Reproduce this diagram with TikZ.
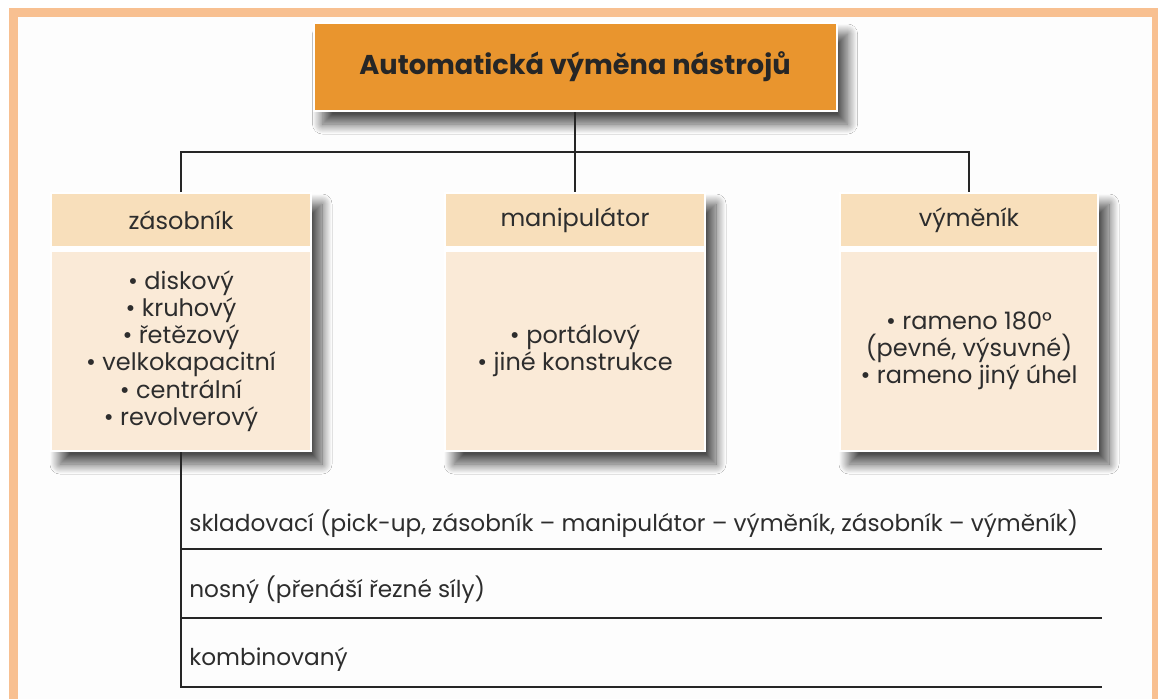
\documentclass[tikz,border=0pt]{standalone}
\usepackage{fontspec}
\setmainfont{Poppins}
\usetikzlibrary{positioning, shadows.blur, backgrounds}
\definecolor{Vring}{RGB}{248,192,145}
\definecolor{Vtop}{RGB}{233,149,46}
\definecolor{Vhead}{RGB}{248,223,187}
\definecolor{Vbody}{RGB}{250,234,215}
\definecolor{Vink}{RGB}{45,45,45}
\definecolor{Vpaper}{RGB}{253,253,253}
\tikzset{
  boxshadow/.style={blur shadow={shadow xshift=5pt, shadow yshift=-6pt,
      shadow blur radius=5pt, shadow blur steps=30, shadow opacity=70}},
  topbox/.style={fill=Vtop, draw=white, line width=1pt,
      minimum width=261.5pt, minimum height=44pt, inner sep=0pt,
      text=black!85, font=\fontsize{13.6}{16}\selectfont\bfseries},
  headbox/.style={fill=Vhead, draw=white, line width=1pt,
      minimum width=130pt, minimum height=27pt, inner sep=0pt,
      text=Vink, font=\fontsize{12}{14}\selectfont},
  bodybox/.style={fill=Vbody, draw=white, line width=1pt,
      minimum width=130pt, minimum height=100pt, inner sep=0pt,
      align=center, text=Vink, font=\fontsize{12}{13.6}\selectfont},
  rowtext/.style={anchor=base west, inner sep=0pt, text=Vink,
      font=\fontsize{11.6}{13}\selectfont},
  conn/.style={draw=black!85, line width=1.1pt}
}

\begin{document}
\begin{tikzpicture}[x=0.5pt, y=-0.5pt]
  \useasboundingbox (0,0) rectangle (1158,698);
  \clip (0,0) rectangle (1158,698);

  % title
  \node[topbox] (top) at (575,67) {Automatická výměna nástrojů};

  % three groups: header + list
  \node[headbox] (zas) at (181,220) {zásobník};
  \node[headbox] (man) at (575,220) {manipulátor};
  \node[headbox, minimum width=129pt] (vym) at (969,220) {výměník};

  \node[bodybox, below=1pt of zas] (zasB)
    {• diskový\\ • kruhový\\ • řetězový\\ • velkokapacitní\\ • centrální\\ • revolverový};
  \node[bodybox, below=1pt of man] (manB)
    {• portálový\\ • jiné konstrukce};
  \node[bodybox, minimum width=129pt, below=1pt of vym] (vymB)
    {• rameno 180°\\ (pevné, výsuvné)\\ • rameno jiný úhel};

  % tree connectors
  \coordinate (bus) at (575,152);
  \draw[conn] (top.south) -- (man.north);
  \draw[conn] (zas.north) -- (zas.north |- bus) -- (vym.north |- bus) -- (vym.north);

  % ------------------------------------------------
  % kinds of magazines, one row each
  % ------------------------------------------------
  \coordinate (r1) at (181,549);
  \coordinate (r2) at (181,618);
  \coordinate (r3) at (181,687);
  \coordinate (rend) at (1102,0);

  \node[rowtext] (sklad) at (189,531)
    {skladovací (pick-up, zásobník – manipulátor – výměník, zásobník – výměník)};
  \node[rowtext] (nosny) at (189,597) {nosný (přenáší řezné síly)};
  \node[rowtext] (komb) at (189,665) {kombinovaný};

  \draw[conn] (zasB.south) -- (r3) -- (r3 -| rend);
  \draw[conn] (r1) -- (r1 -| rend);
  \draw[conn] (r2) -- (r2 -| rend);

  % frame and soft shadows behind everything
  \begin{scope}[on background layer]
    \fill[white] (0,0) rectangle (1158,698);
    \draw[Vring, line width=4.5pt, fill=Vpaper] (13.5,12.5) rectangle (1156.5,760);
    \fill[white, boxshadow] (top.north west) rectangle (top.south east);
    \foreach \g in {zas, man, vym}
      \fill[white, boxshadow] (\g.north west) rectangle (\g B.south east);
  \end{scope}
\end{tikzpicture}
\end{document}
